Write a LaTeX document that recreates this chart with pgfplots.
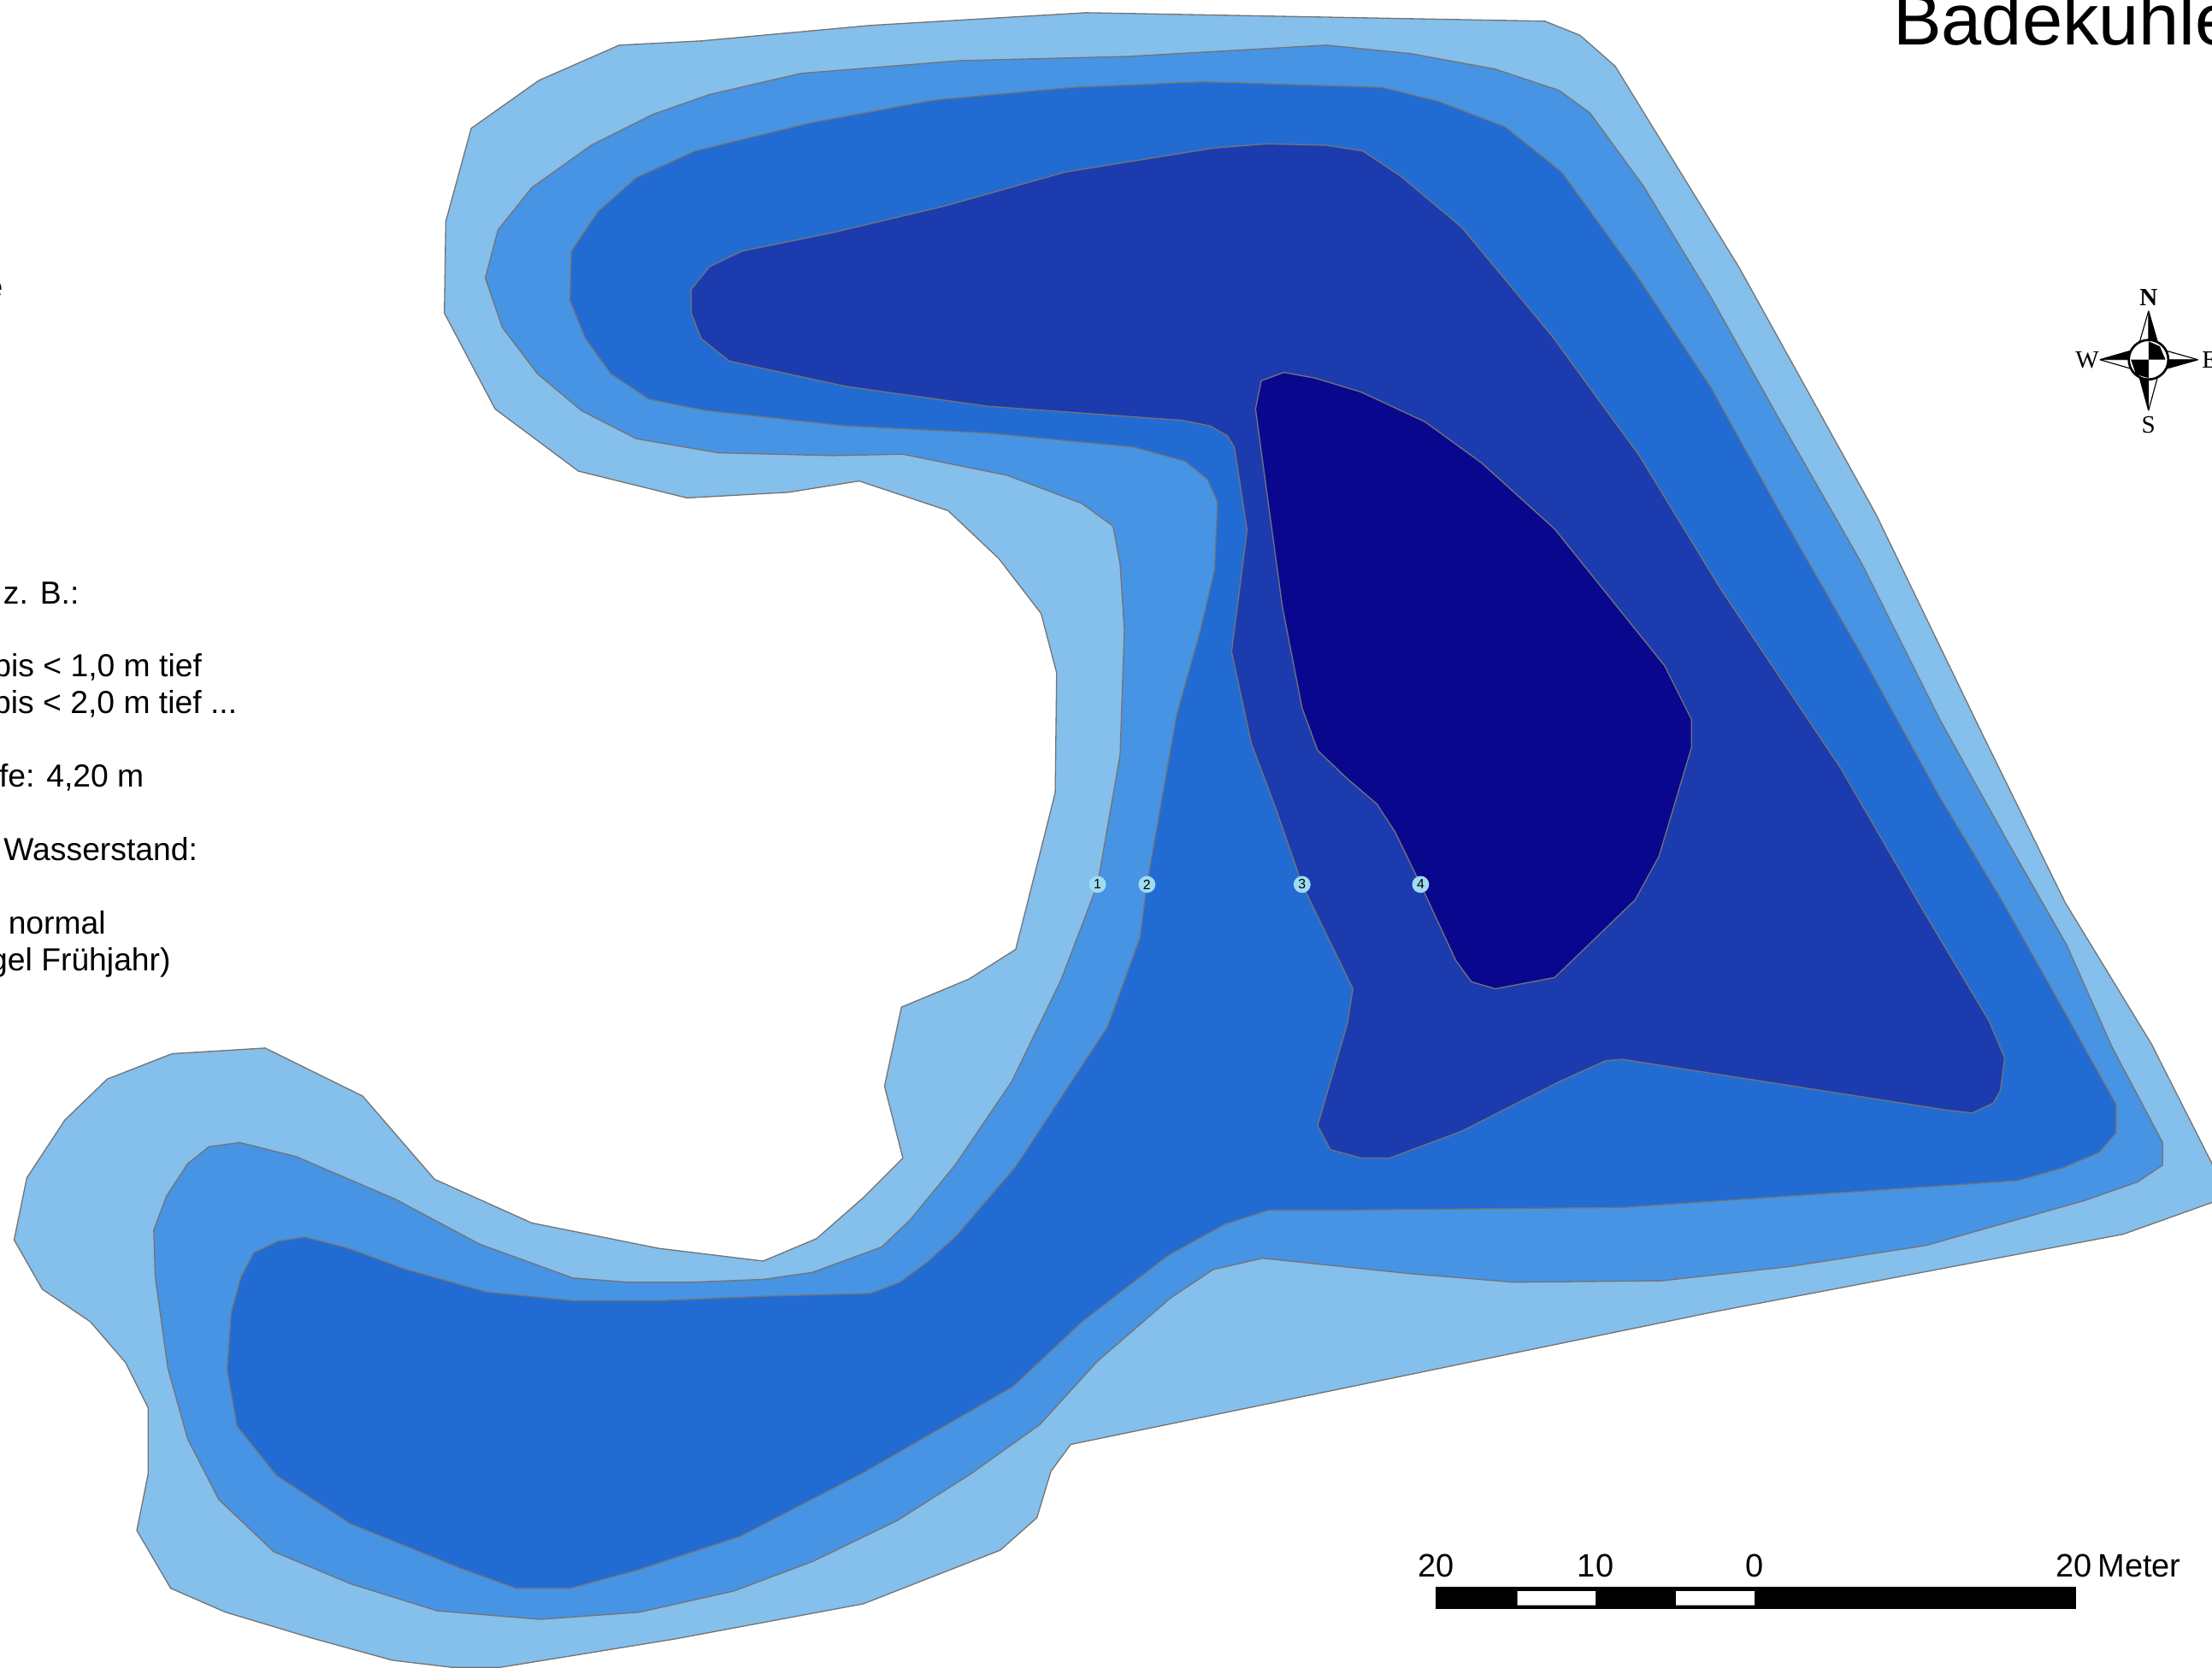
\documentclass[border=0pt]{standalone}
\usepackage{fontspec}
\setmainfont{Liberation Sans}
\newfontfamily\compassfont{Liberation Serif}
\usepackage{pgfplots}
\pgfplotsset{compat=1.18}
\definecolor{lvla}{HTML}{85BFEC}
\definecolor{lvlb}{HTML}{4794E4}
\definecolor{lvlc}{HTML}{226BD3}
\definecolor{lvld}{HTML}{1C3BAF}
\definecolor{lvle}{HTML}{0A078F}
\definecolor{rim}{HTML}{747474}
\definecolor{pin}{HTML}{9FDCF2}
\begin{document}
\begin{tikzpicture}[inner sep=0pt, outer sep=0pt]
\useasboundingbox (0,0) rectangle (784pt,591pt);
\clip (0,0) rectangle (784pt,591pt);
\begin{axis}[
  scale only axis, width=784pt, height=591pt,
  xmin=0, xmax=1568, ymin=0, ymax=1182,
  y dir=reverse, hide axis,
  clip marker paths=true,
]
% depth zones, shallow to deep
\addplot[fill=lvla, draw=rim, line width=0.4pt] coordinates {
(770,9) (1095,15) (1120,25) (1145,47) (1233,190) (1330,365) (1405,520) (1464,640) (1525,740) (1568,825)
(1575,850) (1505,875) (1215,930) (759,1024) (745,1043) (735,1076) (709,1099) (612,1137) (478,1162) (355,1182)
(320,1182) (278,1177) (220,1161) (160,1143) (121,1126) (97,1085) (105,1045) (105,998) (89,966) (64,937)
(30,914) (10,879) (19,835) (46,794) (76,765) (122,747) (188,743) (257,777) (308,836) (377,867)
(467,885) (541,894) (579,878) (612,849) (640,821) (627,770) (639,714) (687,694) (720,673) (748,562)
(749,477) (738,435) (708,396) (672,362) (609,341) (559,349) (487,353) (410,334) (351,290) (315,222)
(316,157) (334,91) (382,57) (439,32) (497,29) (617,18) (770,9)};
\addplot[fill=lvlb, draw=rim, line width=0.4pt] coordinates {
(940,32) (1000,38) (1060,49) (1105,64) (1127,80) (1165,132) (1213,211) (1260,295) (1320,400) (1375,510)
(1425,600) (1465,670) (1497,742) (1533,810) (1533,826) (1515,838) (1478,851) (1365,883) (1268,898) (1178,908)
(1073,909) (1000,903) (895,892) (860,900) (830,920) (778,965) (737,1010) (688,1045) (636,1078) (576,1107)
(520,1128) (453,1143) (383,1148) (310,1142) (249,1123) (194,1100) (155,1063) (133,1020) (119,970) (110,905)
(109,872) (118,848) (133,825) (148,813) (170,810) (210,820) (280,850) (340,882) (406,906) (445,909)
(490,909) (541,907) (576,902) (625,884) (645,865) (677,826) (717,767) (752,695) (778,627) (794,535)
(797,447) (794,400) (789,373) (767,357) (714,337) (640,322) (590,323) (509,321) (451,311) (412,291)
(381,265) (356,232) (344,197) (353,163) (377,133) (419,103) (463,81) (503,67) (568,52) (680,43)
(800,40) (940,32)};
\addplot[fill=lvlc, draw=rim, line width=0.4pt] coordinates {
(853,58) (980,62) (1020,72) (1067,90) (1107,122) (1160,195) (1213,275) (1260,360) (1320,465) (1375,565)
(1420,640) (1465,720) (1500,783) (1500,803) (1488,817) (1462,828) (1430,837) (1150,856) (940,858) (899,858)
(868,868) (828,890) (767,937) (718,983) (612,1044) (525,1089) (452,1113) (404,1126) (366,1126) (327,1112)
(248,1080) (196,1046) (168,1011) (161,971) (164,930) (171,905) (180,888) (197,880) (216,877) (247,885)
(288,900) (345,916) (405,922) (470,922) (540,919) (617,917) (638,909) (657,895) (678,876) (720,827)
(785,728) (808,665) (813,627) (834,507) (850,450) (861,404) (863,356) (856,340) (840,327) (804,317)
(700,307) (600,302) (500,291) (460,283) (433,265) (415,240) (404,213) (405,178) (424,150) (451,126)
(493,107) (575,87) (662,71) (760,62) (853,58)};
\addplot[fill=lvld, draw=rim, line width=0.4pt] coordinates {
(898,102) (940,103) (966,107) (993,125) (1036,161) (1100,238) (1162,323) (1220,418) (1305,545) (1360,640)
(1410,724) (1421,750) (1418,773) (1413,782) (1398,789) (1380,787) (1150,751) (1138,752) (1105,767) (1036,802)
(985,821) (965,821) (943,815) (934,798) (955,726) (959,701) (923,627) (905,575) (887,527) (873,462)
(884,376) (875,317) (870,309) (858,302) (838,298) (700,288) (600,274) (517,256) (497,240) (490,222)
(490,205) (503,189) (526,178) (590,165) (670,146) (755,122) (860,105) (898,102)};
\addplot[fill=lvle, draw=rim, line width=0.4pt] coordinates {
(890,290) (894,270) (910,264) (932,268) (965,278) (1010,299) (1050,328) (1102,375) (1180,472) (1199,510)
(1199,530) (1176,607) (1159,638) (1130,666) (1102,693) (1060,701) (1043,696) (1032,681) (1007,627) (989,590)
(976,570) (955,552) (934,532) (923,502) (909,430) (890,290)};
% depth labels along the transect
\addplot[only marks, mark=*, mark size=2.8pt, mark options={fill=pin, draw=pin}] coordinates {
(778,627) (813,627) (923,627) (1007,627)};
\node[font=\fontsize{4.8}{5}\selectfont] at (axis cs:778,627) {1};
\node[font=\fontsize{4.8}{5}\selectfont] at (axis cs:813,627) {2};
\node[font=\fontsize{4.8}{5}\selectfont] at (axis cs:923,627) {3};
\node[font=\fontsize{4.8}{5}\selectfont] at (axis cs:1007,627) {4};
% scale bar
\addplot[fill=black, draw=black, line width=0.2pt] coordinates {(1018,1125) (1471,1125) (1471,1140) (1018,1140) (1018,1125)};
\addplot[fill=white, draw=none] coordinates {(1075.6,1128) (1131,1128) (1131,1138) (1075.6,1138) (1075.6,1128)};
\addplot[fill=white, draw=none] coordinates {(1188,1128) (1243.6,1128) (1243.6,1138) (1188,1138) (1188,1128)};
% compass
\addplot[fill=white, draw=black, line width=0.35pt] coordinates {(1523,220.5) (1529.5,243) (1516.5,243) (1523,220.5)};
\addplot[fill=black, draw=black, line width=0.2pt] coordinates {(1523,220.5) (1529.5,243) (1523,243) (1523,220.5)};
\addplot[fill=white, draw=black, line width=0.35pt] coordinates {(1523,291) (1529.5,267) (1516.5,267) (1523,291)};
\addplot[fill=black, draw=black, line width=0.2pt] coordinates {(1523,291) (1516.5,267) (1523,267) (1523,291)};
\addplot[fill=white, draw=black, line width=0.35pt] coordinates {(1488.5,255) (1511,248.5) (1511,261.5) (1488.5,255)};
\addplot[fill=black, draw=black, line width=0.2pt] coordinates {(1488.5,255) (1511,248.5) (1511,255) (1488.5,255)};
\addplot[fill=white, draw=black, line width=0.35pt] coordinates {(1558,255) (1535,248.5) (1535,261.5) (1558,255)};
\addplot[fill=black, draw=black, line width=0.2pt] coordinates {(1558,255) (1535,261.5) (1535,255) (1558,255)};
\addplot[only marks, mark=*, mark size=7pt, mark options={fill=white, draw=black, line width=0.8pt}] coordinates {(1523,255)};
\addplot[fill=black, draw=none] coordinates {(1523,242) (1531,245.5) (1535,255) (1523,255) (1523,242)};
\addplot[fill=black, draw=none] coordinates {(1510.5,255) (1523,255) (1523,268) (1514,265.5) (1510.5,255)};
\node[font=\compassfont\bfseries\fontsize{8.8}{9}\selectfont] at (axis cs:1523,211) {N};
\node[font=\compassfont\fontsize{8.8}{9}\selectfont] at (axis cs:1523,301.5) {S};
\node[font=\compassfont\fontsize{8.8}{9}\selectfont] at (axis cs:1479.5,255) {W};
\node[font=\compassfont\fontsize{8.8}{9}\selectfont, anchor=west] at (axis cs:1561,255) {E};
% title and notes, running off the sheet
\node[anchor=base west, font=\fontsize{25.7}{28}\selectfont] at (axis cs:1342,32) {Badekuhle};
\node[anchor=base east, font=\fontsize{11.3}{13}\selectfont] at (axis cs:2,211) {e};
\node[anchor=base east, font=\fontsize{11.3}{13}\selectfont] at (axis cs:56,428) {z. B.:};
\node[anchor=base east, font=\fontsize{11.3}{13}\selectfont] at (axis cs:143,480) {bis < 1,0 m tief};
\node[anchor=base east, font=\fontsize{11.3}{13}\selectfont] at (axis cs:168,506) {bis < 2,0 m tief ...};
\node[anchor=base east, font=\fontsize{11.3}{13}\selectfont] at (axis cs:102,558) {Tiefe: 4,20 m};
\node[anchor=base east, font=\fontsize{11.3}{13}\selectfont] at (axis cs:140,610) {Wasserstand:};
\node[anchor=base east, font=\fontsize{11.3}{13}\selectfont] at (axis cs:75,662) {normal};
\node[anchor=base east, font=\fontsize{11.3}{13}\selectfont] at (axis cs:121,688) {(Pegel Frühjahr)};
\node[anchor=base, font=\fontsize{11.5}{13}\selectfont] at (axis cs:1018,1118) {20};
\node[anchor=base, font=\fontsize{11.5}{13}\selectfont] at (axis cs:1131,1118) {10};
\node[anchor=base, font=\fontsize{11.5}{13}\selectfont] at (axis cs:1244,1118) {0};
\node[anchor=base, font=\fontsize{11.5}{13}\selectfont] at (axis cs:1470,1118) {20};
\node[anchor=base west, font=\fontsize{11.5}{13}\selectfont] at (axis cs:1487,1118) {Meter};
\end{axis}
\end{tikzpicture}
\end{document}
